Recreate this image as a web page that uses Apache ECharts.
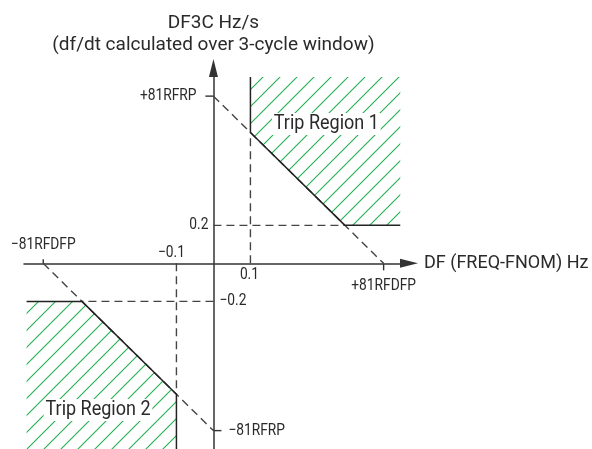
<!DOCTYPE html>
<html>
<head>
<meta charset="utf-8">
<script src="https://cdn.jsdelivr.net/npm/echarts@6/dist/echarts.min.js"></script>
<style>
  html, body { margin: 0; background: #fff; }
  #main { width: 592px; height: 449px; }
</style>
</head>
<body>
<div id="main"></div>
<script>
// settings (Hz, Hz/s)
const RFRP = 0.88;      // 81RFRP
const RFDFP = 0.46;     // 81RFDFP
const DF_PICKUP = 0.1;  // |DF| threshold
const RATE_PICKUP = 0.2; // |DF3C| threshold
const REGION_X = 0.505; // how far the trip regions are drawn
const REGION_Y = 0.98;

const xMarks = [-RFDFP, -DF_PICKUP, DF_PICKUP, RFDFP];
const xMarkLabels = ['\u221281RFDFP', '\u22120.1', '0.1', '+81RFDFP'];
const yMarks = [RFRP, RATE_PICKUP, -RATE_PICKUP, -RFRP];
const yMarkLabels = ['+81RFRP', '0.2', '\u22120.2', '\u221281RFRP'];
const regionNames = ['Trip Region 1', 'Trip Region 2'];

// where the boundary crosses the thresholds
const rateAtDf = RFRP * (1 - DF_PICKUP / RFDFP);
const dfAtRate = RFDFP * (1 - RATE_PICKUP / RFRP);

const region1 = [[DF_PICKUP, REGION_Y], [REGION_X, REGION_Y], [REGION_X, RATE_PICKUP], [dfAtRate, RATE_PICKUP], [DF_PICKUP, rateAtDf]];
const region2 = region1.map(p => [-p[0], -p[1]]);
const edge1 = [[DF_PICKUP, REGION_Y], [DF_PICKUP, rateAtDf], [dfAtRate, RATE_PICKUP], [REGION_X, RATE_PICKUP]];
const edge2 = edge1.map(p => [-p[0], -p[1]]);
const guides = [
  [[0, RFRP], [RFDFP, 0]],
  [[-RFDFP, 0], [0, -RFRP]],
  [[DF_PICKUP, 0], [DF_PICKUP, rateAtDf]],
  [[-DF_PICKUP, 0], [-DF_PICKUP, -rateAtDf]],
  [[0, RATE_PICKUP], [dfAtRate, RATE_PICKUP]],
  [[0, -RATE_PICKUP], [-dfAtRate, -RATE_PICKUP]]
];

// label placement (pixels)
const xMarkPlace = [
  { dx: 0, dy: -18, tick: -4 },
  { dx: -5, dy: -10, tick: 0 },
  { dx: -1, dy: 12, tick: 0 },
  { dx: 0, dy: 23, tick: 7 }
];
const yMarkPlace = [
  { dx: -17, align: 'right', tick: -8 },
  { dx: -5, align: 'right', tick: 0 },
  { dx: 6, align: 'left', tick: 0 },
  { dx: 15, align: 'left', tick: 8 }
];
const regionLabelPos = [[0.305, 0.733], [-0.312, -0.772]];

const FONT = 'Roboto, "Liberation Sans Narrow", sans-serif';
const INK = '#2a2a2a';
const NARROW = 0.86; // squeeze Roboto toward the condensed original

// hatch pattern
function hatch() {
  const s = 17;
  const c = document.createElement('canvas');
  c.width = s; c.height = s;
  const ctx = c.getContext('2d');
  ctx.strokeStyle = '#22b04f';
  ctx.lineWidth = 1.1;
  ctx.beginPath();
  ctx.moveTo(-2, s + 2); ctx.lineTo(s + 2, -2);
  ctx.moveTo(-2, 2); ctx.lineTo(2, -2);
  ctx.moveTo(s - 2, s + 2); ctx.lineTo(s + 2, s - 2);
  ctx.stroke();
  return c;
}
const hatchFill = { image: hatch(), repeat: 'repeat' };

let myChart = echarts.init(document.getElementById('main'));

const series = [];
series.push({
  type: 'custom',
  silent: true,
  data: [[0, 0], [1, 0]],
  z: 1,
  renderItem: function (params, api) {
    const poly = (params.dataIndex === 0 ? region1 : region2).map(p => api.coord(p));
    return { type: 'polygon', shape: { points: poly }, style: { fill: hatchFill, stroke: null } };
  }
});
guides.forEach(function (seg) {
  series.push({
    type: 'line', data: seg, symbol: 'none', silent: true, z: 2,
    lineStyle: { color: '#444', width: 1.4, type: [8, 5] }
  });
});
[edge1, edge2].forEach(function (e) {
  series.push({
    type: 'line', data: e, symbol: 'none', silent: true, z: 3,
    lineStyle: { color: '#222', width: 1.5 }
  });
});
// x marks
series.push({
  type: 'custom', silent: true, z: 4, clip: false,
  data: xMarks.map(v => [v, 0]),
  renderItem: function (params, api) {
    const i = params.dataIndex;
    const p = api.coord([api.value(0), 0]);
    const pl = xMarkPlace[i];
    const children = [{
      type: 'text', x: p[0] + pl.dx, y: p[1] + pl.dy, scaleX: NARROW,
      style: { text: xMarkLabels[i], fill: INK, font: '16px ' + FONT, align: 'center', verticalAlign: 'middle' }
    }];
    if (pl.tick) children.push({
      type: 'line', shape: { x1: p[0], y1: p[1], x2: p[0], y2: p[1] + pl.tick },
      style: { stroke: '#333', lineWidth: 1.4 }
    });
    return { type: 'group', children: children };
  }
});
// y marks
series.push({
  type: 'custom', silent: true, z: 4, clip: false,
  data: yMarks.map(v => [0, v]),
  renderItem: function (params, api) {
    const i = params.dataIndex;
    const p = api.coord([0, api.value(1)]);
    const pl = yMarkPlace[i];
    const children = [{
      type: 'text', x: p[0] + pl.dx, y: p[1], scaleX: NARROW,
      style: { text: yMarkLabels[i], fill: INK, font: '16px ' + FONT, align: pl.align, verticalAlign: 'middle' }
    }];
    if (pl.tick) children.push({
      type: 'line', shape: { x1: p[0], y1: p[1], x2: p[0] + pl.tick, y2: p[1] },
      style: { stroke: '#333', lineWidth: 1.4 }
    });
    return { type: 'group', children: children };
  }
});
// region names
series.push({
  type: 'custom', silent: true, z: 5,
  data: regionLabelPos,
  renderItem: function (params, api) {
    const p = api.coord([api.value(0), api.value(1)]);
    return {
      type: 'text', x: p[0], y: p[1], scaleX: 0.9,
      style: {
        text: regionNames[params.dataIndex], fill: INK, font: '20px ' + FONT,
        align: 'center', verticalAlign: 'middle', backgroundColor: '#fff', padding: [1, 2]
      }
    };
  }
});

myChart.setOption({
  animation: false,
  grid: { left: 24, top: 68, width: 385, height: 382, containLabel: false, outerBoundsMode: 'none' },
  xAxis: {
    type: 'value', min: -0.512, max: 0.5286,
    name: 'DF (FREQ-FNOM) Hz', nameLocation: 'end', nameGap: 15,
    nameTextStyle: { color: INK, fontSize: 18, fontFamily: FONT, verticalAlign: 'middle' },
    axisLine: { onZero: true, symbol: ['none', 'triangle'], symbolSize: [9, 18], lineStyle: { color: '#333', width: 1.5 } },
    axisTick: { show: false }, axisLabel: { show: false }, splitLine: { show: false }
  },
  yAxis: {
    type: 'value', min: -0.982, max: 1.028,
    name: 'DF3C Hz/s\n(df/dt calculated over 3-cycle window)', nameLocation: 'end', nameGap: 12,
    nameTextStyle: { color: INK, fontSize: 19, fontFamily: FONT, lineHeight: 22, align: 'center' },
    axisLine: { onZero: true, symbol: ['none', 'triangle'], symbolSize: [9, 18], lineStyle: { color: '#333', width: 1.5 } },
    axisTick: { show: false }, axisLabel: { show: false }, splitLine: { show: false }
  },
  series: series
});
window.onresize = function () {
  myChart.resize();
};
</script>
</body>
</html>
